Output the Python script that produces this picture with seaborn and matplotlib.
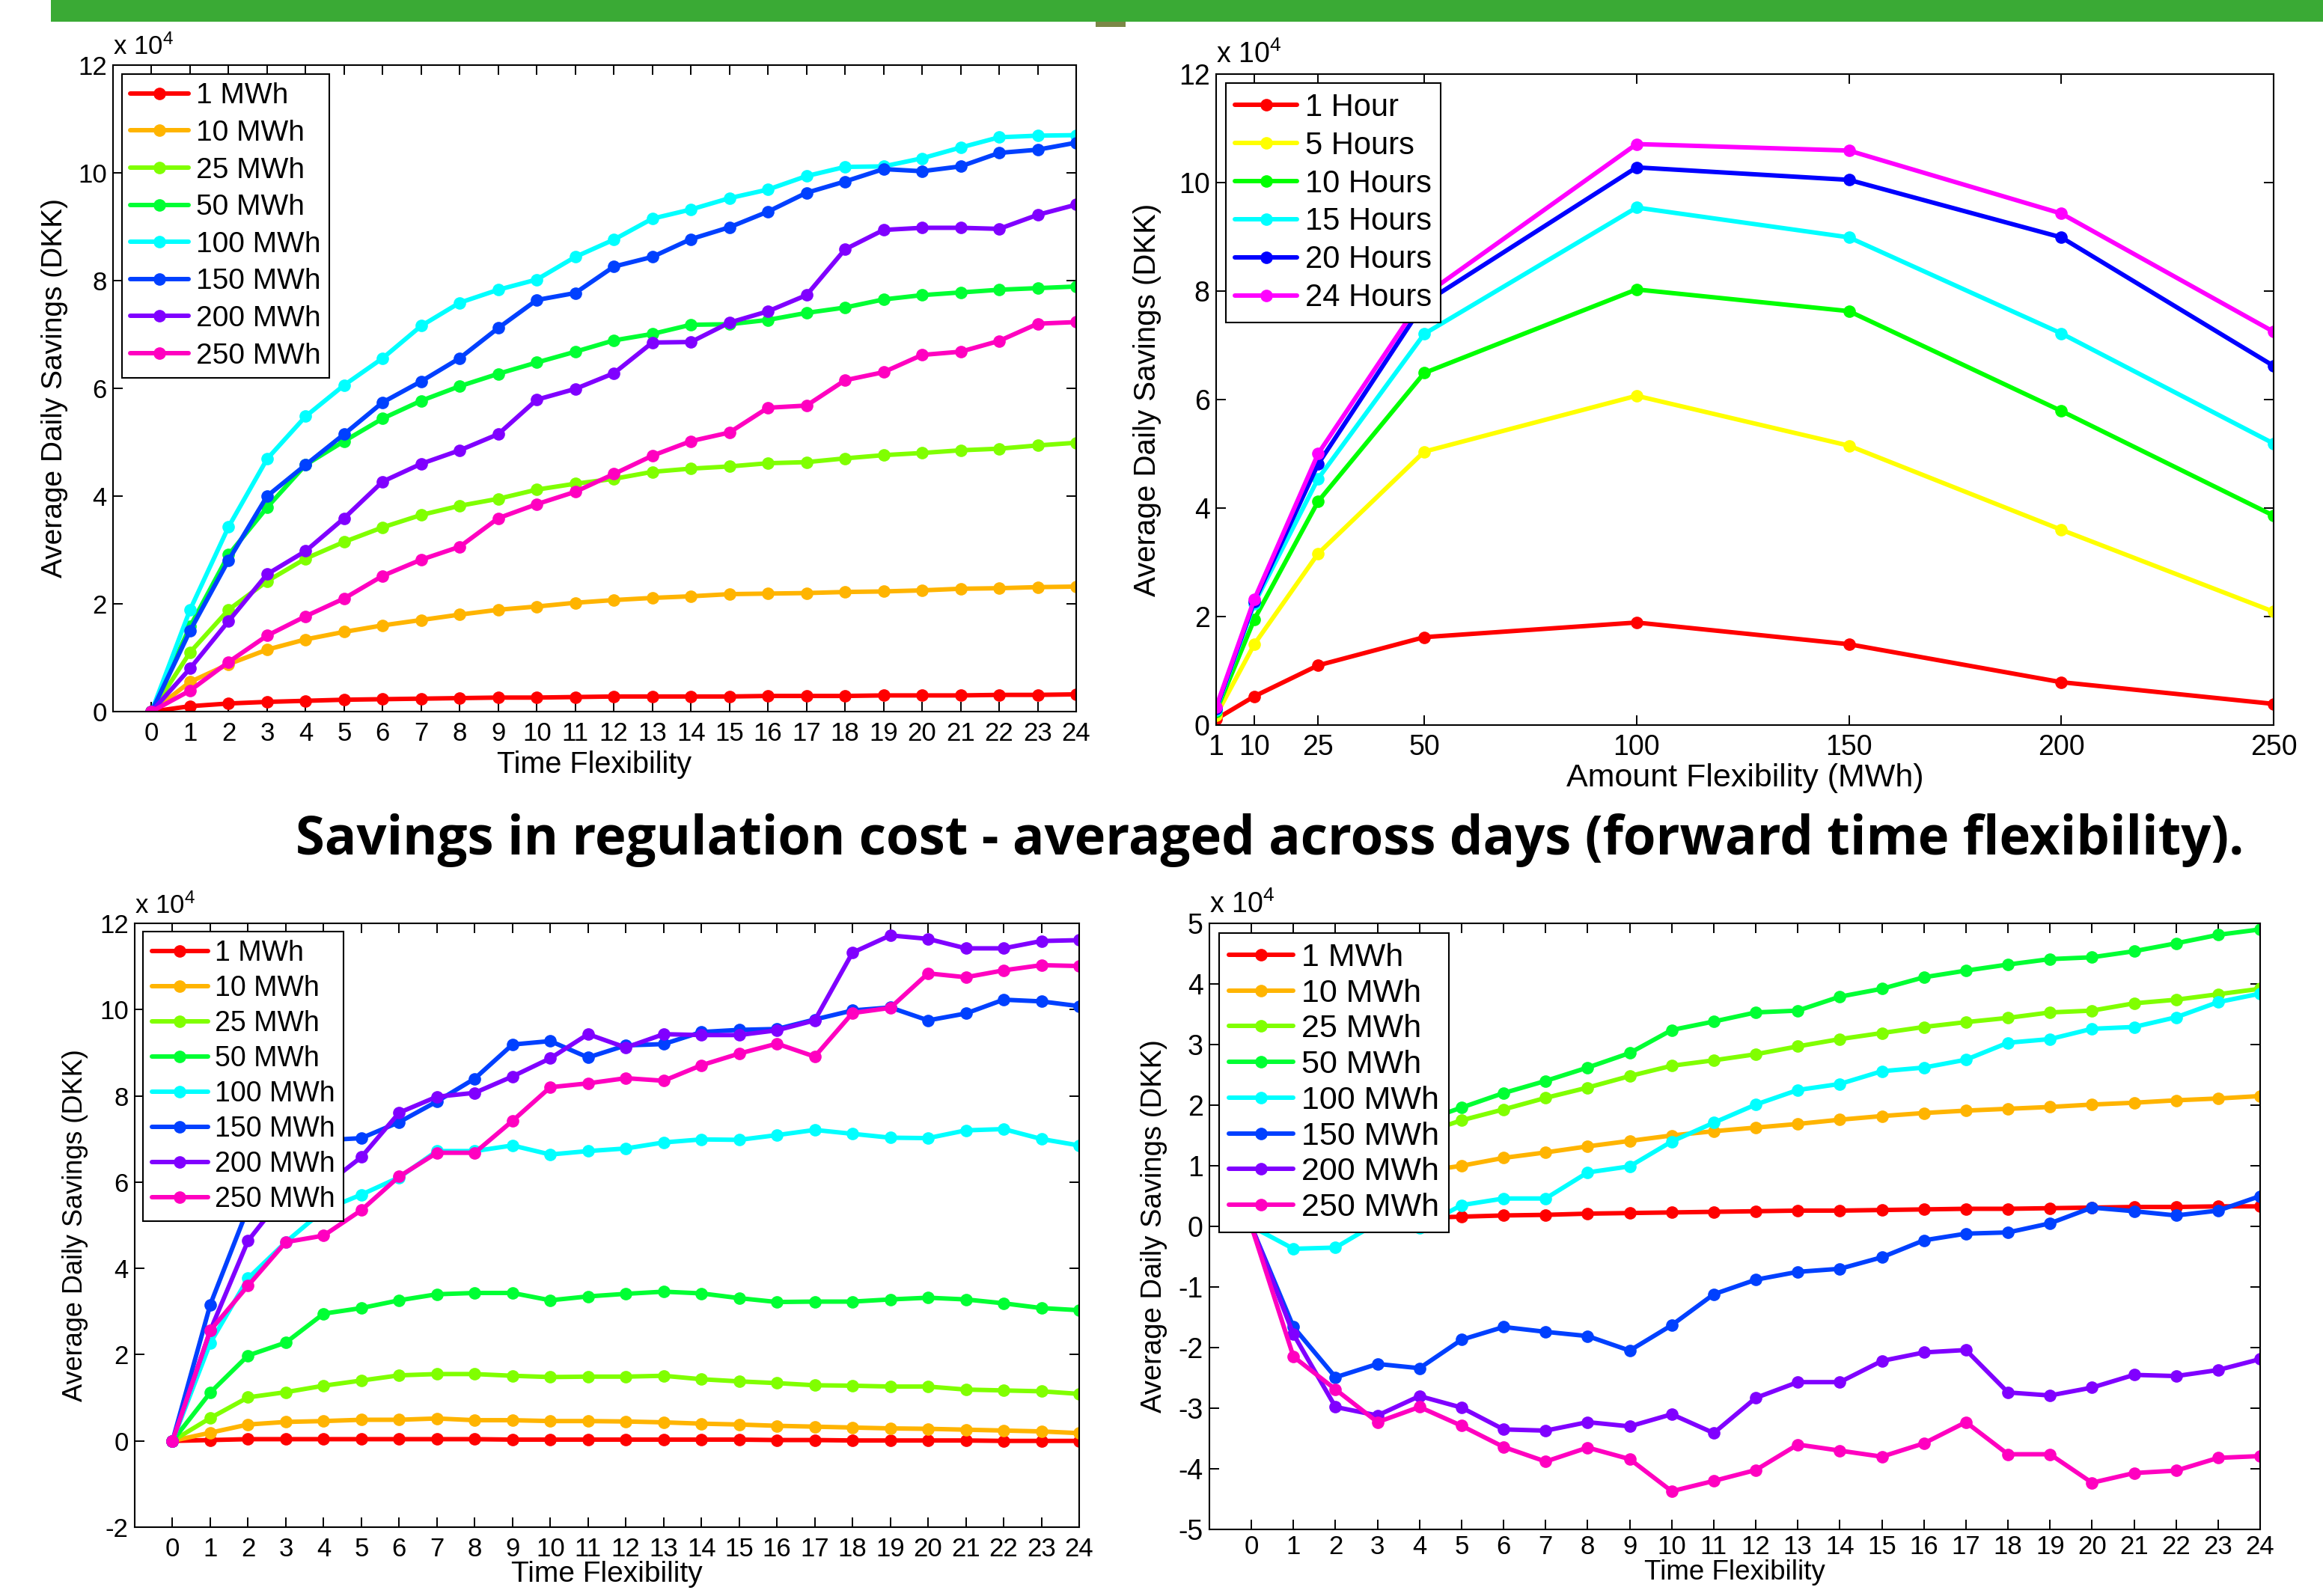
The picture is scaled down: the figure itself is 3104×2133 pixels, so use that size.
import matplotlib
matplotlib.use('Agg')
import matplotlib.pyplot as plt
from matplotlib import font_manager
from matplotlib.patches import Rectangle
import pandas as pd
import seaborn as sns

# savings are given in units of 10^4 DKK (as on the axes)
hours = list(range(25))
mwh_labels = ['1 MWh', '10 MWh', '25 MWh', '50 MWh', '100 MWh', '150 MWh', '200 MWh', '250 MWh']
mwh_colors = ['#ff0000', '#ffb400', '#80ff00', '#00ff33', '#00ffff', '#0040ff', '#8000ff', '#ff00c0']

# top left panel
tl_1 = [0, 0.10, 0.15, 0.18, 0.20, 0.22, 0.23, 0.24, 0.25, 0.26, 0.26, 0.27, 0.28, 0.28, 0.28, 0.28, 0.29, 0.29, 0.29, 0.30, 0.30, 0.30, 0.31, 0.31, 0.32]
tl_10 = [0, 0.55, 0.88, 1.15, 1.34, 1.48, 1.60, 1.70, 1.80, 1.89, 1.95, 2.02, 2.07, 2.11, 2.14, 2.18, 2.19, 2.20, 2.22, 2.23, 2.25, 2.28, 2.29, 2.31, 2.32]
tl_25 = [0, 1.10, 1.89, 2.42, 2.84, 3.15, 3.42, 3.65, 3.82, 3.95, 4.12, 4.23, 4.32, 4.45, 4.51, 4.55, 4.61, 4.63, 4.70, 4.76, 4.80, 4.85, 4.88, 4.94, 4.99]
tl_50 = [0, 1.58, 2.91, 3.79, 4.58, 5.02, 5.44, 5.77, 6.04, 6.27, 6.48, 6.68, 6.89, 7.01, 7.18, 7.19, 7.27, 7.40, 7.50, 7.65, 7.73, 7.78, 7.83, 7.86, 7.89]
tl_100 = [0, 1.89, 3.43, 4.69, 5.48, 6.06, 6.56, 7.16, 7.59, 7.83, 8.02, 8.44, 8.76, 9.15, 9.32, 9.53, 9.69, 9.94, 10.11, 10.12, 10.27, 10.47, 10.66, 10.69, 10.70]
tl_150 = [0, 1.50, 2.81, 4.00, 4.58, 5.15, 5.74, 6.13, 6.56, 7.12, 7.64, 7.77, 8.26, 8.44, 8.77, 8.99, 9.28, 9.63, 9.84, 10.07, 10.03, 10.12, 10.37, 10.43, 10.56]
tl_200 = [0, 0.80, 1.68, 2.55, 2.98, 3.59, 4.27, 4.60, 4.85, 5.15, 5.79, 5.99, 6.28, 6.85, 6.86, 7.22, 7.43, 7.73, 8.58, 8.94, 8.98, 8.98, 8.96, 9.22, 9.41]
tl_250 = [0, 0.39, 0.92, 1.41, 1.77, 2.10, 2.52, 2.82, 3.06, 3.59, 3.85, 4.08, 4.41, 4.75, 5.02, 5.18, 5.64, 5.68, 6.15, 6.30, 6.62, 6.68, 6.88, 7.20, 7.23]

# top right panel
amounts = [1, 10, 25, 50, 100, 150, 200, 250]
hour_labels = ['1 Hour', '5 Hours', '10 Hours', '15 Hours', '20 Hours', '24 Hours']
hour_colors = ['#ff0000', '#ffff00', '#00ff00', '#00ffff', '#0000ff', '#ff00ff']
tr_1h = [0.11, 0.53, 1.10, 1.62, 1.89, 1.49, 0.79, 0.39]
tr_5h = [0.18, 1.49, 3.16, 5.04, 6.07, 5.15, 3.60, 2.09]
tr_10h = [0.25, 1.95, 4.12, 6.49, 8.03, 7.63, 5.79, 3.86]
tr_15h = [0.28, 2.24, 4.54, 7.21, 9.54, 8.99, 7.22, 5.19]
tr_20h = [0.30, 2.28, 4.81, 7.78, 10.28, 10.05, 8.99, 6.62]
tr_24h = [0.33, 2.32, 5.00, 7.92, 10.71, 10.59, 9.43, 7.25]

# bottom left panel
bl_1 = [0, 0.02, 0.04, 0.04, 0.04, 0.04, 0.04, 0.04, 0.04, 0.03, 0.03, 0.03, 0.03, 0.03, 0.03, 0.03, 0.02, 0.02, 0.01, 0.01, 0.01, 0.01, 0.0, 0.0, 0.0]
bl_10 = [0, 0.19, 0.38, 0.44, 0.46, 0.49, 0.49, 0.52, 0.48, 0.48, 0.46, 0.46, 0.45, 0.43, 0.40, 0.38, 0.35, 0.33, 0.31, 0.29, 0.28, 0.26, 0.24, 0.22, 0.18]
bl_25 = [0, 0.53, 1.01, 1.13, 1.28, 1.40, 1.52, 1.55, 1.55, 1.51, 1.48, 1.49, 1.49, 1.51, 1.43, 1.38, 1.34, 1.29, 1.28, 1.26, 1.26, 1.19, 1.17, 1.15, 1.09]
bl_50 = [0, 1.12, 1.98, 2.28, 2.95, 3.08, 3.26, 3.40, 3.43, 3.43, 3.26, 3.35, 3.41, 3.46, 3.42, 3.31, 3.22, 3.23, 3.23, 3.28, 3.32, 3.28, 3.19, 3.08, 3.03]
bl_100 = [0, 2.27, 3.77, 4.61, 5.35, 5.71, 6.11, 6.72, 6.72, 6.85, 6.64, 6.72, 6.78, 6.92, 6.99, 6.98, 7.09, 7.21, 7.12, 7.03, 7.02, 7.20, 7.23, 7.00, 6.85]
bl_150 = [0, 3.16, 5.40, 6.40, 6.97, 7.02, 7.39, 7.87, 8.40, 9.19, 9.27, 8.89, 9.17, 9.20, 9.48, 9.53, 9.55, 9.77, 9.98, 10.05, 9.75, 9.91, 10.23, 10.19, 10.08]
bl_200 = [0, 2.56, 4.64, 5.75, 5.90, 6.58, 7.61, 7.98, 8.07, 8.45, 8.87, 9.43, 9.12, 9.43, 9.41, 9.41, 9.52, 9.75, 11.32, 11.72, 11.64, 11.42, 11.42, 11.59, 11.61]
bl_250 = [0, 2.56, 3.60, 4.61, 4.76, 5.35, 6.13, 6.68, 6.68, 7.42, 8.20, 8.29, 8.41, 8.35, 8.71, 8.98, 9.21, 8.91, 9.92, 10.04, 10.84, 10.75, 10.91, 11.03, 11.01]

# bottom right panel
br_1 = [0, 0.07, 0.10, 0.12, 0.14, 0.16, 0.18, 0.19, 0.21, 0.22, 0.23, 0.24, 0.25, 0.26, 0.26, 0.27, 0.28, 0.29, 0.29, 0.30, 0.31, 0.32, 0.32, 0.33, 0.33]
br_10 = [0, 0.42, 0.62, 0.78, 0.90, 1.00, 1.13, 1.22, 1.32, 1.41, 1.50, 1.57, 1.63, 1.69, 1.76, 1.82, 1.87, 1.91, 1.94, 1.97, 2.01, 2.04, 2.08, 2.11, 2.15]
br_25 = [0, 0.60, 1.00, 1.28, 1.52, 1.75, 1.93, 2.12, 2.29, 2.48, 2.65, 2.74, 2.84, 2.97, 3.09, 3.19, 3.29, 3.37, 3.44, 3.53, 3.56, 3.68, 3.74, 3.83, 3.92]
br_50 = [0, 0.85, 1.20, 1.48, 1.72, 1.96, 2.20, 2.40, 2.62, 2.86, 3.24, 3.38, 3.53, 3.56, 3.79, 3.92, 4.11, 4.22, 4.32, 4.41, 4.44, 4.54, 4.67, 4.81, 4.90]
br_100 = [0, -0.37, -0.35, 0.06, -0.02, 0.35, 0.46, 0.46, 0.89, 0.99, 1.40, 1.71, 2.01, 2.25, 2.35, 2.56, 2.62, 2.75, 3.03, 3.09, 3.26, 3.29, 3.45, 3.70, 3.84]
br_150 = [0, -1.66, -2.49, -2.27, -2.34, -1.87, -1.66, -1.74, -1.81, -2.05, -1.63, -1.12, -0.88, -0.75, -0.70, -0.51, -0.23, -0.12, -0.10, 0.05, 0.31, 0.25, 0.18, 0.26, 0.50]
br_200 = [0, -1.78, -2.98, -3.12, -2.80, -2.99, -3.35, -3.37, -3.23, -3.30, -3.10, -3.41, -2.83, -2.57, -2.57, -2.22, -2.08, -2.04, -2.74, -2.79, -2.66, -2.45, -2.47, -2.37, -2.19]
br_250 = [0, -2.15, -2.69, -3.23, -2.98, -3.29, -3.64, -3.88, -3.65, -3.84, -4.37, -4.20, -4.02, -3.60, -3.70, -3.80, -3.58, -3.23, -3.76, -3.76, -4.23, -4.07, -4.03, -3.82, -3.79]

title_text = 'Savings in regulation cost - averaged across days (forward time flexibility).'

sns.set_style('ticks', {'axes.edgecolor': 'black', 'xtick.color': 'black', 'ytick.color': 'black',
                        'text.color': 'black', 'axes.labelcolor': 'black',
                        'xtick.direction': 'in', 'ytick.direction': 'in'})
plt.rcParams['font.family'] = ['Liberation Sans', 'DejaVu Sans']
plt.rcParams['mathtext.default'] = 'regular'
plt.rcParams['axes.unicode_minus'] = False


def have_font(name):
    try:
        font_manager.findfont(font_manager.FontProperties(family=name), fallback_to_default=False)
        return True
    except Exception:
        return False


W, H = 3104, 2133
fig = plt.figure(figsize=(W / 100, H / 100), dpi=100)


def panel(l, t, r, b):
    return fig.add_axes([l / W, 1 - b / H, (r - l) / W, (b - t) / H])


def draw(ax, x, series, labels, colors, fs):
    rows = []
    for lab, vals in zip(labels, series):
        for xi, v in zip(x, vals):
            rows.append((xi, v, lab))
    df = pd.DataFrame(rows, columns=['x', 'y', 'series'])
    sns.lineplot(data=df, x='x', y='y', hue='series', hue_order=labels, palette=colors,
                 marker='o', markersize=12, markeredgewidth=0, linewidth=4.3,
                 errorbar=None, legend=False, sort=False, ax=ax)
    leg = ax.legend(ax.lines, labels, loc='upper left', fontsize=fs['leg'], frameon=True,
                    fancybox=False, edgecolor='black', framealpha=1, borderpad=0.3,
                    labelspacing=fs['ls'], handlelength=2.0, handletextpad=0.25,
                    borderaxespad=0.3)
    leg.get_frame().set_linewidth(1.5)
    for sp in ax.spines.values():
        sp.set_linewidth(1.5)
    ax.tick_params(direction='in', top=True, right=True, length=9.5, width=1.4,
                   labelsize=fs['tick'])
    ax.tick_params(axis='x', pad=9)
    ax.tick_params(axis='y', pad=6)
    ax.set_ylabel('Average Daily Savings (DKK)', fontsize=fs['lab'])
    ax.text(0, 1.008, r'x 10$^{4}$', transform=ax.transAxes, ha='left', va='bottom',
            fontsize=fs['tick'])


# top left
ax1 = panel(151, 87, 1438, 951)
draw(ax1, hours, [tl_1, tl_10, tl_25, tl_50, tl_100, tl_150, tl_200, tl_250],
     mwh_labels, mwh_colors, {'leg': 28, 'ls': 0.35, 'tick': 25, 'lab': 28})
ax1.set_xlim(-1, 24)
ax1.set_ylim(0, 12)
ax1.set_xticks(hours)
ax1.set_yticks(range(0, 13, 2))
ax1.set_xlabel('Time Flexibility', fontsize=28.5, labelpad=5)
ax1.yaxis.set_label_coords(-0.047, 0.5)

# top right
ax2 = panel(1625, 99, 3038, 969)
draw(ax2, amounts, [tr_1h, tr_5h, tr_10h, tr_15h, tr_20h, tr_24h],
     hour_labels, hour_colors, {'leg': 30, 'ls': 0.26, 'tick': 27, 'lab': 29})
ax2.set_xlim(1, 250)
ax2.set_ylim(0, 12)
ax2.set_xticks(amounts)
ax2.set_yticks(range(0, 13, 2))
ax2.set_xlabel('Amount Flexibility (MWh)', fontsize=31, labelpad=2)
ax2.yaxis.set_label_coords(-0.052, 0.5)

# bottom left
ax3 = panel(180, 1234, 1442, 2041)
draw(ax3, hours, [bl_1, bl_10, bl_25, bl_50, bl_100, bl_150, bl_200, bl_250],
     mwh_labels, mwh_colors, {'leg': 27, 'ls': 0.29, 'tick': 25, 'lab': 26})
ax3.set_xlim(-1, 24)
ax3.set_ylim(-2, 12)
ax3.set_xticks(hours)
ax3.set_yticks(range(-2, 13, 2))
ax3.set_xlabel('Time Flexibility', fontsize=28, labelpad=0)
ax3.yaxis.set_label_coords(-0.049, 0.5)

# bottom right
ax4 = panel(1616, 1234, 3020, 2044)
draw(ax4, hours, [br_1, br_10, br_25, br_50, br_100, br_150, br_200, br_250],
     mwh_labels, mwh_colors, {'leg': 31, 'ls': 0.18, 'tick': 27, 'lab': 27.5})
ax4.set_xlim(-1, 24)
ax4.set_ylim(-5, 5)
ax4.set_xticks(hours)
ax4.set_yticks(range(-5, 6, 1))
ax4.tick_params(axis='x', labelsize=25, pad=5)
ax4.set_xlabel('Time Flexibility', fontsize=26.5, labelpad=0)
ax4.yaxis.set_label_coords(-0.040, 0.5)

# slide decoration at the top
fig.add_artist(Rectangle((68 / W, 1 - 29 / H), (W - 68) / W, 29 / H,
                         transform=fig.transFigure, color='#3aaa35', lw=0))
fig.add_artist(Rectangle((1464 / W, 1 - 36 / H), 40 / W, 7 / H,
                         transform=fig.transFigure, color='#7a8746', lw=0))

title_family = ['Liberation Sans Narrow', 'DejaVu Sans'] if have_font('Liberation Sans Narrow') \
    else ['Open Sans', 'DejaVu Sans']
title = fig.text(1697 / W, 1 - 1123 / H, title_text, ha='center', va='center',
                 fontsize=40, fontweight='bold', family=title_family)
fig.canvas.draw()
bb = title.get_window_extent()
title.set_fontsize(40 * 2605 / bb.width)

fig.savefig('out.png', dpi=100)
